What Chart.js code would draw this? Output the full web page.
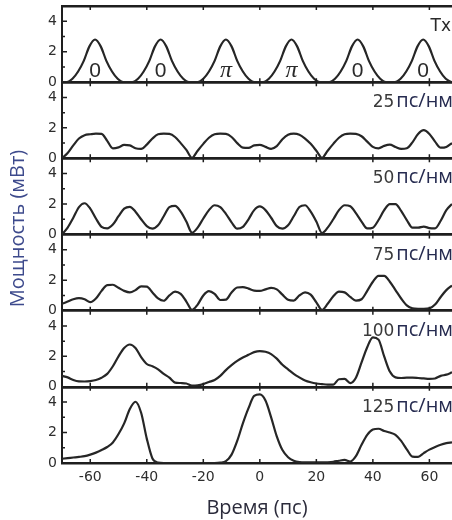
<!DOCTYPE html>
<html>
<head>
<meta charset="utf-8">
<script src="https://cdn.jsdelivr.net/npm/chart.js@4.4.1/dist/chart.umd.min.js"></script>
<style>
  html, body { margin: 0; padding: 0; background: #fff; overflow: hidden; }
  #wrap { position: relative; width: 452px; height: 520px; }
</style>
</head>
<body>
<div id="wrap"><canvas id="chart"></canvas></div>
<script>
// panel names, top to bottom (dispersion in ps/nm)
const panelNames = ['Tx', '25', '50', '75', '100', '125'];
const unitLabel = 'пс/нм';
const xTicks = [-60, -40, -20, 0, 20, 40, 60];

// transmitted pulses, phase marks
const txCenters = [-58.3, -35.1, -12.0, 11.2, 34.6, 57.8];
const txSymbols = ['0', '0', 'π', 'π', '0', '0'];
const txTime = [-70,
  -68.3, -66.3, -64.3, -62.3, -60.3, -58.3, -56.3, -54.3, -52.3, -50.3, -48.3,
  -45.1, -43.1, -41.1, -39.1, -37.1, -35.1, -33.1, -31.1, -29.1, -27.1, -25.1,
  -22, -20, -18, -16, -14, -12, -10, -8, -6, -4, -2,
  1.2, 3.2, 5.2, 7.2, 9.2, 11.2, 13.2, 15.2, 17.2, 19.2, 21.2,
  24.6, 26.6, 28.6, 30.6, 32.6, 34.6, 36.6, 38.6, 40.6, 42.6, 44.6,
  47.8, 49.8, 51.8, 53.8, 55.8, 57.8, 59.8, 61.8, 63.8, 65.8, 67.8];
const txPower = [0,
  0, 0.22, 0.7, 1.4, 2.35, 2.8, 2.35, 1.4, 0.7, 0.22, 0,
  0, 0.22, 0.7, 1.4, 2.35, 2.8, 2.35, 1.4, 0.7, 0.22, 0,
  0, 0.22, 0.7, 1.4, 2.35, 2.8, 2.35, 1.4, 0.7, 0.22, 0,
  0, 0.22, 0.7, 1.4, 2.35, 2.8, 2.35, 1.4, 0.7, 0.22, 0,
  0, 0.22, 0.7, 1.4, 2.35, 2.8, 2.35, 1.4, 0.7, 0.22, 0,
  0, 0.22, 0.7, 1.4, 2.35, 2.8, 2.35, 1.4, 0.7, 0.22, 0];

// received waveforms, sampled every 2 ps
const time = [-70, -68, -66, -64, -62, -60, -58, -56, -54, -52,
  -50, -48, -46, -44, -42, -40, -38, -36, -34, -32,
  -30, -28, -26, -24, -22, -20, -18, -16, -14, -12,
  -10, -8, -6, -4, -2, 0, 2, 4, 6, 8,
  10, 12, 14, 16, 18, 20, 22, 24, 26, 28,
  30, 32, 34, 36, 38, 40, 42, 44, 46, 48,
  50, 52, 54, 56, 58, 60, 62, 64, 66, 68];
const p25 = [0.0, 0.35, 0.85, 1.3, 1.52, 1.58, 1.62, 1.6, 1.15, 0.66,
  0.72, 0.88, 0.85, 0.66, 0.62, 0.9, 1.3, 1.58, 1.62, 1.6,
  1.4, 1.0, 0.55, 0.03, 0.5, 0.95, 1.35, 1.58, 1.62, 1.6,
  1.4, 1.0, 0.7, 0.68, 0.85, 0.88, 0.75, 0.62, 0.8, 1.25,
  1.55, 1.62, 1.55, 1.3, 0.95, 0.5, 0.03, 0.5, 0.95, 1.35,
  1.58, 1.62, 1.6, 1.45, 1.1, 0.75, 0.66, 0.82, 0.9, 0.75,
  0.62, 0.66, 1.05, 1.6, 1.85, 1.6, 1.1, 0.7, 0.75, 1.0];
const p50 = [0.0, 0.45, 1.1, 1.8, 2.05, 1.7, 1.05, 0.5, 0.4, 0.65,
  1.2, 1.7, 1.82, 1.5, 1.0, 0.55, 0.38, 0.6, 1.2, 1.8,
  1.88, 1.5, 0.85, 0.12, 0.45, 1.05, 1.6, 1.92, 1.8, 1.35,
  0.8, 0.38, 0.5, 1.0, 1.6, 1.84, 1.6, 1.1, 0.55, 0.38,
  0.6, 1.2, 1.8, 1.92, 1.5, 0.85, 0.1, 0.45, 1.0, 1.6,
  1.92, 1.85, 1.4, 0.85, 0.4, 0.45, 0.95, 1.6, 2.0, 2.0,
  1.55, 0.95, 0.45, 0.45, 0.52, 0.42, 0.4, 0.9, 1.6, 2.0];
const p75 = [0.45, 0.6, 0.75, 0.82, 0.75, 0.56, 0.8, 1.3, 1.68, 1.7,
  1.5, 1.3, 1.2, 1.35, 1.6, 1.58, 1.2, 0.8, 0.65, 1.0,
  1.25, 1.1, 0.6, 0.05, 0.4, 1.0, 1.28, 1.1, 0.7, 0.72,
  1.2, 1.52, 1.55, 1.45, 1.32, 1.3, 1.4, 1.5, 1.4, 1.05,
  0.72, 0.66, 1.0, 1.2, 1.05, 0.55, 0.05, 0.45, 0.95, 1.25,
  1.2, 0.9, 0.66, 0.75, 1.3, 1.9, 2.28, 2.28, 1.9, 1.35,
  0.8, 0.35, 0.15, 0.12, 0.12, 0.15, 0.4, 0.9, 1.35, 1.65];
const p100 = [0.72, 0.62, 0.45, 0.36, 0.35, 0.38, 0.45, 0.6, 0.85, 1.35,
  2.0, 2.55, 2.78, 2.55, 1.95, 1.5, 1.35, 1.15, 0.85, 0.6,
  0.28, 0.25, 0.22, 0.08, 0.1, 0.18, 0.32, 0.45, 0.72, 1.1,
  1.42, 1.7, 1.92, 2.1, 2.28, 2.35, 2.3, 2.15, 1.85, 1.45,
  1.15, 0.85, 0.62, 0.42, 0.3, 0.22, 0.18, 0.15, 0.15, 0.5,
  0.52, 0.25, 0.6, 1.6, 2.6, 3.25, 3.1, 2.0, 1.0, 0.62,
  0.58, 0.6, 0.6, 0.58, 0.55, 0.52, 0.55, 0.72, 0.8, 0.95];
const p125 = [0.28, 0.32, 0.36, 0.4, 0.45, 0.55, 0.68, 0.85, 1.05, 1.35,
  1.9, 2.6, 3.55, 4.02, 3.3, 1.6, 0.3, 0.02, 0.0, 0.0,
  0.0, 0.0, 0.0, 0.0, 0.0, 0.0, 0.0, 0.0, 0.02, 0.12,
  0.55, 1.45, 2.6, 3.6, 4.4, 4.5, 4.1, 3.0, 1.75, 0.85,
  0.38, 0.15, 0.06, 0.04, 0.04, 0.04, 0.04, 0.05, 0.08, 0.15,
  0.2, 0.1, 0.45, 1.2, 1.85, 2.2, 2.25, 2.1, 2.0, 1.85,
  1.45, 0.9, 0.42, 0.4, 0.65, 0.88, 1.05, 1.2, 1.3, 1.35];

const seriesTime = [txTime, time, time, time, time, time];
const seriesPower = [txPower, p25, p50, p75, p100, p125];

const ink = '#1e1e1e';
const labelGrey = '#2e2e2e';

// inward tick marks on every panel
const panelTicks = {
  id: 'panelTicks',
  afterDatasetsDraw(chart) {
    const { ctx, chartArea } = chart;
    const xs = chart.scales.x;
    ctx.save();
    ctx.strokeStyle = ink;
    ctx.lineWidth = 1.5;
    ctx.beginPath();
    panelNames.forEach((n, i) => {
      const ys = chart.scales['y' + i];
      [1, 2, 3, 4].forEach(v => {
        const py = ys.getPixelForValue(v);
        ctx.moveTo(chartArea.left, py);
        ctx.lineTo(chartArea.left + (v % 2 === 0 ? 5 : 3), py);
      });
      const y0 = ys.getPixelForValue(0), yTop = ys.getPixelForValue(5);
      xTicks.forEach(v => {
        const px = xs.getPixelForValue(v);
        ctx.moveTo(px, y0); ctx.lineTo(px, y0 - 4);
        ctx.moveTo(px, yTop); ctx.lineTo(px, yTop + 4);
      });
    });
    ctx.stroke();
    ctx.restore();
  }
};

// panel captions, phase marks and the y title
const panelText = {
  id: 'panelText',
  afterDatasetsDraw(chart) {
    const { ctx, chartArea } = chart;
    const xs = chart.scales.x;
    ctx.save();
    // 0 / π phase marks under the Tx pulses
    const y0 = chart.scales.y0;
    ctx.textAlign = 'center';
    ctx.textBaseline = 'alphabetic';
    ctx.fillStyle = '#2a2a2a';
    txSymbols.forEach((s, k) => {
      ctx.font = s === 'π' ? 'italic 24px "Liberation Serif"' : '21px "Liberation Sans"';
      ctx.fillText(s, xs.getPixelForValue(txCenters[k]), y0.getPixelForValue(0.33));
    });
    // captions at the top right of each panel
    ctx.textAlign = 'right';
    panelNames.forEach((n, i) => {
      const ys = chart.scales['y' + i];
      const base = ys.top + 25;
      let right = chartArea.right + 1;
      if (i === 0) {
        ctx.font = '17px "DejaVu Sans"';
        ctx.fillStyle = '#2a2a2a';
        ctx.fillText(n, right - 2, base);
        return;
      }
      ctx.font = '20px "Open Sans"';
      ctx.fillStyle = '#262b50';
      ctx.fillText(unitLabel, right, base);
      right -= ctx.measureText(unitLabel).width + 2;
      ctx.font = '17px "DejaVu Sans"';
      ctx.fillStyle = '#3a3a3a';
      ctx.fillText(n, right, base);
    });
    // y axis title spanning all panels
    ctx.translate(18, (chartArea.top + chartArea.bottom) / 2 - 6);
    ctx.rotate(-Math.PI / 2);
    ctx.textAlign = 'center';
    ctx.textBaseline = 'middle';
    ctx.font = '20px "Open Sans"';
    ctx.fillStyle = '#3d4a8c';
    ctx.fillText('Мощность (мВт)', 0, 0);
    ctx.restore();
  }
};

const scales = {
  x: {
    type: 'linear',
    min: -70,
    max: 68,
    afterBuildTicks: s => { s.ticks = xTicks.map(v => ({ value: v })); },
    afterFit: s => { s.height = 57; },
    grid: { display: false, drawTicks: false },
    border: { display: true, color: ink, width: 2 },
    ticks: {
      padding: 6, autoSkip: false, maxRotation: 0, color: labelGrey,
      font: { family: 'DejaVu Sans', size: 14 },
      callback: v => String(v)
    },
    title: {
      display: true, text: 'Время (пс)', padding: 0, color: '#2b2b3b',
      font: { family: 'Open Sans', size: 20 }
    }
  }
};

panelNames.forEach((n, i) => {
  scales['y' + i] = {
    type: 'linear',
    position: 'left',
    stack: 'panels',
    stackWeight: 1,
    weight: panelNames.length - i,
    min: 0,
    max: 5,
    afterFit: s => { s.width = 62; s.paddingTop = 0; s.paddingBottom = 0; },
    ticks: {
      stepSize: 1, autoSkip: false, padding: 5, color: labelGrey,
      font: { family: 'DejaVu Sans', size: 14 },
      callback: v => (v % 2 === 0 && v < 5) ? String(v) : ''
    },
    grid: {
      drawTicks: false,
      color: c => (c.tick && (c.tick.value === 0 || c.tick.value === 5)) ? ink : 'rgba(0,0,0,0)',
      lineWidth: c => (c.tick && (c.tick.value === 0 || c.tick.value === 5)) ? 2.5 : 0
    },
    border: { display: true, color: ink, width: 2 }
  };
});

new Chart(document.getElementById('chart'), {
  type: 'line',
  data: {
    datasets: panelNames.map((n, i) => ({
      label: n,
      data: seriesTime[i].map((t, k) => ({ x: t, y: seriesPower[i][k] })),
      yAxisID: 'y' + i,
      xAxisID: 'x',
      borderColor: '#262626',
      borderWidth: 2.2,
      pointRadius: 0,
      fill: false,
      cubicInterpolationMode: 'monotone'
    }))
  },
  options: {
    responsive: true,
    maintainAspectRatio: false,
    animation: false,
    layout: { padding: { top: 6, left: 0, right: 0, bottom: 0 } },
    plugins: { legend: { display: false }, tooltip: { enabled: false } },
    scales: scales
  },
  plugins: [panelTicks, panelText]
});
</script>
</body>
</html>
